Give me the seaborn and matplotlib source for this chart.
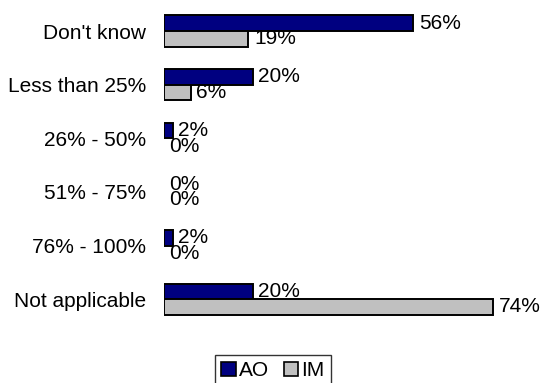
import pandas as pd
import seaborn as sns
import matplotlib.pyplot as plt

categories = ["Don't know", "Less than 25%", "26% - 50%", "51% - 75%", "76% - 100%", "Not applicable"]
ao_values = [56, 20, 2, 0, 2, 20]
im_values = [19, 6, 0, 0, 0, 74]
series = ["AO", "IM"]

df = pd.DataFrame({
    "category": categories * 2,
    "value": ao_values + im_values,
    "series": [series[0]] * len(categories) + [series[1]] * len(categories),
})

sns.set_style("white")
plt.rcParams['font.family'] = ['Liberation Sans', 'DejaVu Sans']
plt.rcParams['text.color'] = 'black'
plt.rcParams['ytick.labelcolor'] = 'black'

fig = plt.figure(figsize=(5.48, 3.83), dpi=100)
ax = fig.add_axes([0.299, 0.149, 0.65, 0.84])

sns.barplot(data=df, y="category", x="value", hue="series", orient="h",
            palette={"AO": "#000080", "IM": "#C0C0C0"}, saturation=1, width=0.58,
            edgecolor="black", linewidth=1.4, ax=ax, legend=False)

for cont in ax.containers:
    for bar in cont:
        if bar.get_width() == 0:
            bar.set_linewidth(0)
    ax.bar_label(cont, fmt="{:.0f}%", padding=4, fontsize=15, color="black")

ax.set_xlim(0, 80)
ax.set_ylim(5.5, -0.5)
ax.set_xlabel("")
ax.set_ylabel("")
ax.set_xticks([])
ax.tick_params(axis="y", length=0, pad=13, labelsize=15, labelcolor="black")
sns.despine(ax=ax, left=True, bottom=True)

handles = [plt.Rectangle((0, 0), 1, 1, facecolor="#000080", edgecolor="black", linewidth=1.2),
           plt.Rectangle((0, 0), 1, 1, facecolor="#C0C0C0", edgecolor="black", linewidth=1.2)]
leg = fig.legend(handles, series, loc="upper center", bbox_to_anchor=(273 / 548, 1 - 355 / 383),
                 ncol=2, frameon=True, fancybox=False, edgecolor="black", fontsize=15,
                 handlelength=0.7, handleheight=0.7, handletextpad=0.15, columnspacing=0.7,
                 borderpad=0.3, borderaxespad=0)
leg.get_frame().set_linewidth(1.0)

fig.savefig("out.png", dpi=100)
